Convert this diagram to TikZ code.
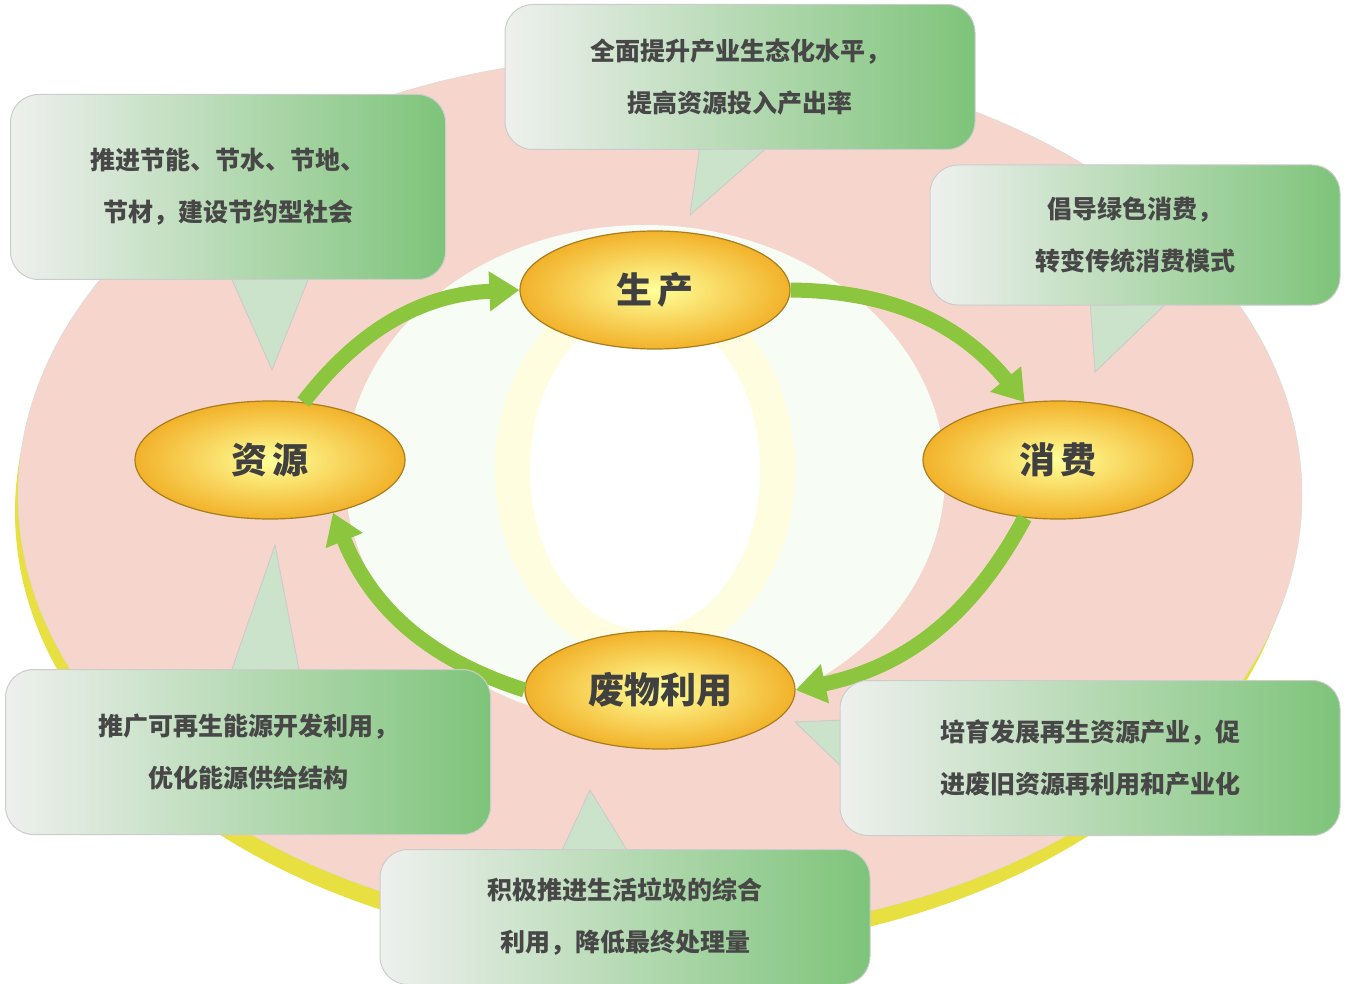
\documentclass[tikz,border=0pt]{standalone}
\usepackage{fontspec}
\newfontfamily\cjk{Noto Sans CJK SC}
\usetikzlibrary{arrows.meta,shapes.geometric}
\definecolor{pinkbg}{HTML}{F6D6CC}
\definecolor{rimy}{HTML}{E8E040}
\definecolor{arrg}{HTML}{8CC63F}
\definecolor{boxg}{HTML}{7EC47A}
\definecolor{boxw}{HTML}{EEF0EE}
\definecolor{ovy}{HTML}{F2B22A}
\tikzset{
  x=1pt,y=-1pt,
  ov/.style={ellipse,draw=ovy!70!black,line width=1.2pt,inner color=yellow!40!white,outer color=ovy,minimum width=270pt,minimum height=118pt,font=\cjk\bfseries\fontsize{36}{36}\selectfont,text=black!75},
  callout/.style={rounded corners=28pt,draw=gray!40,line width=1pt,left color=boxw,right color=boxg,align=center,font=\cjk\bfseries\fontsize{25}{52}\selectfont,text=black!72,inner sep=0pt},
  ptr/.style={fill=boxw!70!boxg,draw=gray!40,line width=1pt},
  flow/.style={line width=15pt,draw=arrg,-{Triangle[width=38pt,length=30pt]}},
}
\begin{document}
\begin{tikzpicture}
\useasboundingbox (0,0) rectangle (1346,984);
\fill[white] (0,0) rectangle (1346,984);
% background disc
\fill[rimy] (655,512) ellipse[x radius=640,y radius=440];
\filldraw[fill=pinkbg,draw=gray!30] (660,495) ellipse[x radius=642,y radius=440];
\fill[pinkbg!70!green!10!white] (645,475) ellipse[x radius=300,y radius=250];
\fill[yellow!12!white] (645,470) ellipse[x radius=150,y radius=190];
\fill[white] (645,470) ellipse[x radius=115,y radius=160];
% oval nodes
\node[ov] (prod) at (655,290) {生\,产};
\node[ov] (cons) at (1058,460) {消\,费};
\node[ov] (waste) at (660,690) {废物利用};
\node[ov] (res) at (270,460) {资\,源};
% arrows
\draw[flow] (res.60) to[bend left=25] (prod.west);
\draw[flow] (prod.east) to[bend left=25] (cons.120);
\draw[flow] (cons.-120) to[bend left=25] (waste.east);
\draw[flow] (waste.west) to[bend left=25] (res.-40);
% pointer tips
\coordinate (t1) at (690,215);
\coordinate (t2) at (272,370);
\coordinate (t3) at (1095,372);
\coordinate (t4) at (275,545);
\coordinate (t5) at (795,722);
\coordinate (t6) at (590,790);
\filldraw[ptr] (700,145) -- (t1) -- (770,145) -- cycle;
\filldraw[ptr] (230,275) -- (t2) -- (310,275) -- cycle;
\filldraw[ptr] (1090,300) -- (t3) -- (1170,300) -- cycle;
\filldraw[ptr] (230,675) -- (t4) -- (300,675) -- cycle;
\filldraw[ptr] (845,720) -- (t5) -- (845,770) -- cycle;
\filldraw[ptr] (560,855) -- (t6) -- (630,855) -- cycle;
% callouts
\node[callout,minimum width=470pt,minimum height=145pt] (c1) at (740,77) {全面提升产业生态化水平，\\提高资源投入产出率};
\node[callout,minimum width=435pt,minimum height=185pt] (c2) at (228,187) {推进节能、节水、节地、\\节材，建设节约型社会};
\node[callout,minimum width=410pt,minimum height=140pt] (c3) at (1135,235) {倡导绿色消费，\\转变传统消费模式};
\node[callout,minimum width=485pt,minimum height=165pt] (c4) at (248,752) {推广可再生能源开发利用，\\优化能源供给结构};
\node[callout,minimum width=500pt,minimum height=155pt] (c5) at (1090,758) {培育发展再生资源产业，促\\进废旧资源再利用和产业化};
\node[callout,minimum width=490pt,minimum height=135pt] (c6) at (625,917) {积极推进生活垃圾的综合\\利用，降低最终处理量};
\end{tikzpicture}
\end{document}
